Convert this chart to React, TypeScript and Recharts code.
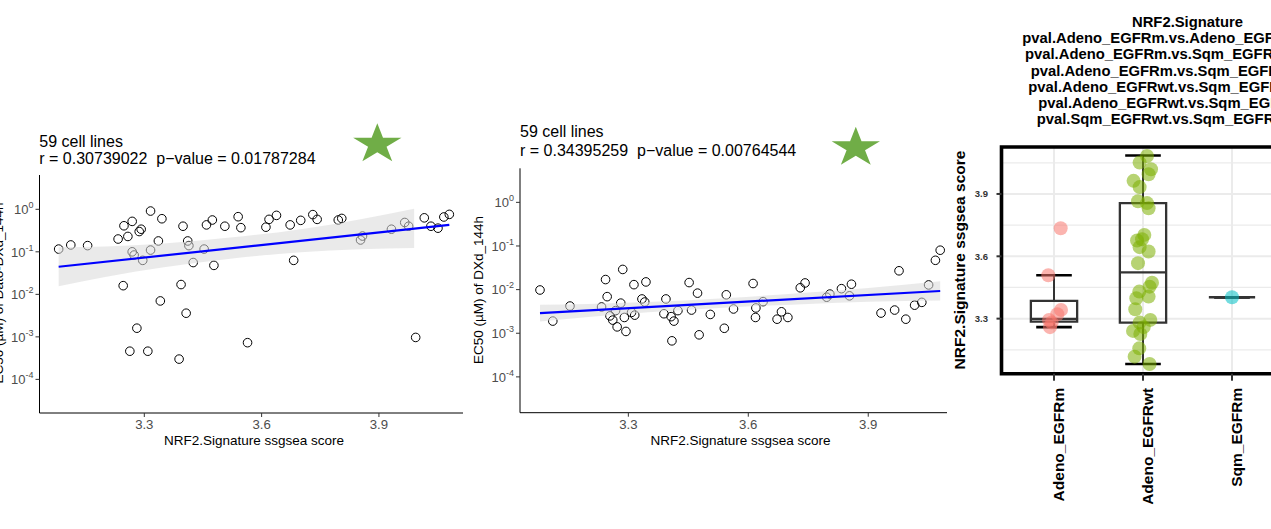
import React from "react";
import {
  ComposedChart, Scatter, Area, XAxis, YAxis, ReferenceLine, ReferenceArea, CartesianGrid,
} from "recharts";

const FONT = "'Liberation Sans', Arial, Helvetica, sans-serif";

// left panel: EC50 of Dato-DXd vs NRF2 score
const datoScore = [3.081, 3.112, 3.155, 3.233, 3.248, 3.258, 3.269, 3.287, 3.292, 3.269, 3.274, 3.296, 3.316, 3.345, 3.316, 3.336, 3.246, 3.341, 3.281, 3.263, 3.309, 3.389, 3.399, 3.411, 3.414, 3.425, 3.394, 3.407, 3.453, 3.459, 3.474, 3.478, 3.506, 3.54, 3.547, 3.564, 3.611, 3.619, 3.638, 3.673, 3.682, 3.7, 3.731, 3.742, 3.796, 3.805, 3.853, 3.858, 3.932, 3.966, 3.976, 3.994, 4.016, 4.033, 4.051, 4.066, 4.08];
const datoEc50 = [0.116, 0.145, 0.14, 0.2, 0.41, 0.23, 0.52, 0.3, 0.34, 0.1, 0.084, 0.063, 0.91, 0.6, 0.11, 0.18, 0.016, 0.007, 0.0016, 0.00046, 0.00046, 0.0003, 0.4, 0.18, 0.14, 0.056, 0.017, 0.0036, 0.116, 0.43, 0.56, 0.048, 0.4, 0.67, 0.37, 0.00073, 0.38, 0.58, 0.72, 0.43, 0.063, 0.55, 0.75, 0.58, 0.56, 0.61, 0.19, 0.235, 0.34, 0.49, 0.4, 0.00097, 0.63, 0.4, 0.36, 0.66, 0.76];
const datoFitX = [3.081, 4.08];
const datoFitY = [0.0446, 0.43];
const datoBandX = [3.081, 3.2, 3.35, 3.52, 3.7, 3.85, 3.99];
const datoBandLo = [0.0155, 0.0256, 0.0434, 0.0684, 0.0984, 0.115, 0.123];
const datoBandHi = [0.129, 0.134, 0.157, 0.216, 0.341, 0.578, 1.03];

// middle panel: EC50 of DXd vs NRF2 score
const dxdScore = [3.079, 3.111, 3.154, 3.233, 3.243, 3.247, 3.254, 3.261, 3.268, 3.272, 3.281, 3.286, 3.29, 3.294, 3.308, 3.314, 3.316, 3.334, 3.341, 3.344, 3.389, 3.394, 3.407, 3.409, 3.414, 3.424, 3.452, 3.458, 3.473, 3.477, 3.505, 3.54, 3.545, 3.563, 3.612, 3.618, 3.619, 3.637, 3.672, 3.683, 3.699, 3.73, 3.742, 3.796, 3.804, 3.833, 3.853, 3.858, 3.932, 3.966, 3.977, 3.994, 4.016, 4.034, 4.051, 4.068, 4.08];
const dxdEc50 = [0.0098, 0.0019, 0.0042, 0.004, 0.017, 0.0069, 0.0025, 0.002, 0.0033, 0.0014, 0.0049, 0.029, 0.0023, 0.0011, 0.003, 0.013, 0.0026, 0.0061, 0.0052, 0.015, 0.0028, 0.0061, 0.0024, 0.00067, 0.0019, 0.0033, 0.0145, 0.0034, 0.0083, 0.00092, 0.0027, 0.0013, 0.0076, 0.0036, 0.0138, 0.0023, 0.0038, 0.0053, 0.0021, 0.0031, 0.0023, 0.011, 0.0142, 0.0067, 0.0079, 0.0105, 0.0072, 0.0133, 0.0029, 0.0034, 0.027, 0.0021, 0.0044, 0.0051, 0.0128, 0.047, 0.08];
const dxdFitX = [3.079, 4.08];
const dxdFitY = [0.0029, 0.0093];
const dxdBandX = [3.079, 3.2, 3.35, 3.55, 3.75, 3.9, 4.08];
const dxdBandLo = [0.00186, 0.00236, 0.00301, 0.00389, 0.0047, 0.00524, 0.00562];
const dxdBandHi = [0.00447, 0.0047, 0.00522, 0.00646, 0.00855, 0.0109, 0.0155];

const logTicks = [1e-4, 1e-3, 1e-2, 1e-1, 1];
const scoreTicks = [3.3, 3.6, 3.9];

// right panel: NRF2 score by subtype
const groups = ["Adeno_EGFRm", "Adeno_EGFRwt", "Sqm_EGFRm", "Sqm_EGFRwt"];
const groupColors = ["#F8766D", "#7CAE00", "#00BFC4", "#C77CFF"];
const egfrmScores = [3.735, 3.509, 3.342, 3.321, 3.294, 3.281, 3.259];
const egfrmJitter = [0.075, -0.064, 0.079, 0.037, -0.056, -0.026, -0.045];
const egfrwtScores = [4.083, 4.051, 4.019, 3.995, 3.963, 3.933, 3.865, 3.856, 3.831, 3.703, 3.676, 3.682, 3.644, 3.623, 3.567, 3.473, 3.454, 3.43, 3.406, 3.398, 3.345, 3.294, 3.281, 3.259, 3.241, 3.226, 3.157, 3.117, 3.082];
const egfrwtJitter = [0.045, -0.038, 0.09, 0.063, -0.106, -0.038, -0.056, 0.045, 0.063, 0.015, -0.067, -0.011, -0.038, 0.063, -0.056, 0.101, 0.074, -0.042, 0.063, -0.075, -0.087, 0.082, -0.038, 0.007, -0.112, -0.03, -0.042, -0.094, 0.074];
const sqmScores = [3.403];
const sqmJitter = [0];
const whiskLo = [3.259, 3.082, 3.403];
const boxQ1 = [3.286, 3.281, 3.403];
const boxMed = [3.299, 3.523, 3.403];
const boxQ3 = [3.385, 3.856, 3.403];
const whiskHi = [3.509, 4.085, 3.403];
const majorY = [3.3, 3.6, 3.9];
const minorY = [3.15, 3.45, 3.75, 4.05];
const titleLines = [
  "pval.Adeno_EGFRm.vs.Adeno_EGFRwt",
  "pval.Adeno_EGFRm.vs.Sqm_EGFRm",
  "pval.Adeno_EGFRm.vs.Sqm_EGFRwt",
  "pval.Adeno_EGFRwt.vs.Sqm_EGFRm",
  "pval.Adeno_EGFRwt.vs.Sqm_EGFRwt",
  "pval.Sqm_EGFRwt.vs.Sqm_EGFRm",
];
const titleStartX = [1022.3, 1025, 1030.7, 1028.3, 1038.3, 1036.7];

const zip = (xs: number[], ys: number[]) => xs.map((x, i) => ({ x, y: ys[i] }));

function LogTick({ x, y, payload }: any) {
  const e = Math.round(Math.log10(payload.value));
  return (
    <text x={x} y={y} dy="0.36em" textAnchor="end" fill="#4d4d4d" fontSize={13} fontFamily={FONT}>
      10<tspan dy={-6} fontSize={9}>{e < 0 ? `-${-e}` : `${e}`}</tspan>
    </text>
  );
}

const OpenCircle = (p: any) => (
  <circle cx={p.cx} cy={p.cy} r={4.3} fill="none" stroke="#000" strokeWidth={1} />
);

interface ScatterPanelProps {
  left: number; top: number; yAxisWidth: number; marginRight: number; marginBottom: number;
  xDomain: [number, number]; yDomain: [number, number];
  score: number[]; ec50: number[]; fitX: number[]; fitY: number[];
  bandX: number[]; bandLo: number[]; bandHi: number[];
}

function ScatterPanel(p: ScatterPanelProps) {
  const band = p.bandX.map((x, i) => ({ x, band: [p.bandLo[i], p.bandHi[i]] }));
  const pts = zip(p.score, p.ec50);
  return (
    <div style={{ position: "absolute", left: p.left, top: 0 }}>
      <ComposedChart width={480} height={460} data={band}
        margin={{ top: p.top, right: p.marginRight, bottom: p.marginBottom, left: 0 }}>
        <XAxis dataKey="x" type="number" domain={p.xDomain} allowDataOverflow ticks={scoreTicks}
          height={30} tickSize={4} tickMargin={3} stroke="#000"
          tickLine={{ stroke: "#333" }}
          tick={{ fontSize: 13.2, fill: "#4d4d4d", fontFamily: FONT }} />
        <YAxis dataKey="y" type="number" scale="log" domain={p.yDomain} allowDataOverflow ticks={logTicks}
          width={p.yAxisWidth} tickSize={4} tickMargin={2} stroke="#000"
          tickLine={{ stroke: "#333" }} tick={<LogTick />} />
        <Scatter data={pts} shape={OpenCircle} isAnimationActive={false} zIndex={50} />
        <Area dataKey="band" type="monotone" stroke="none" fill="#d8d8d8" fillOpacity={0.55}
          isAnimationActive={false} zIndex={100} />
        <ReferenceLine segment={[{ x: p.fitX[0], y: p.fitY[0] }, { x: p.fitX[1], y: p.fitY[1] }]}
          stroke="#0000FF" strokeWidth={2.2} />
      </ComposedChart>
    </div>
  );
}

function GroupTick({ x, y, payload }: any) {
  const bx = x + 10.5;
  return (
    <text x={bx} y={y} transform={`rotate(-90 ${bx} ${y})`} textAnchor="end" fontSize={15.5}
      fontWeight="bold" fill="#000" fontFamily={FONT}>
      {groups[payload.value - 1]}
    </text>
  );
}

function SubtypeBox() {
  const groupPts = [
    egfrmScores.map((y, i) => ({ x: 1 + egfrmJitter[i], y })),
    egfrwtScores.map((y, i) => ({ x: 2 + egfrwtJitter[i], y })),
    sqmScores.map((y, i) => ({ x: 3 + sqmJitter[i], y })),
  ];
  const half = 0.26;
  const cap = 0.2;
  return (
    <div style={{ position: "absolute", left: 960, top: 0 }}>
      <ComposedChart width={420} height={529} margin={{ top: 147, right: 6.5, bottom: 15.3, left: 0 }}>
        <CartesianGrid stroke="#ebebeb" strokeWidth={1.2} vertical={false} horizontalValues={minorY} />
        <CartesianGrid stroke="#ebebeb" strokeWidth={2} horizontalValues={majorY} verticalValues={[1, 2, 3, 4]} />
        <XAxis dataKey="x" type="number" domain={[0.41, 4.59]} allowDataOverflow ticks={[1, 2, 3, 4]}
          height={140} axisLine={false} tickSize={7} tickMargin={7}
          tickLine={{ stroke: "#333", strokeWidth: 2 }} tick={<GroupTick />} />
        <YAxis dataKey="y" type="number" domain={[3.035, 4.126]} allowDataOverflow ticks={majorY}
          width={41.5} axisLine={false} tickSize={5} tickMargin={8.5}
          tickLine={{ stroke: "#333", strokeWidth: 2 }}
          tick={{ fontSize: 9.5, fontWeight: "bold", fill: "#333", fontFamily: FONT }} />
        {groupPts.map((pts, g) => (
          <Scatter key={g} data={pts} isAnimationActive={false}
            shape={(s: any) => <circle cx={s.cx} cy={s.cy} r={7} fill={groupColors[g]} fillOpacity={0.55} stroke="none" />} />
        ))}
        {boxMed.map((m, i) => {
          const c = i + 1;
          return (
            <React.Fragment key={i}>
              <ReferenceLine segment={[{ x: c, y: boxQ3[i] }, { x: c, y: whiskHi[i] }]} stroke="#333" strokeWidth={2} />
              <ReferenceLine segment={[{ x: c, y: whiskLo[i] }, { x: c, y: boxQ1[i] }]} stroke="#333" strokeWidth={2} />
              <ReferenceLine segment={[{ x: c - cap, y: whiskHi[i] }, { x: c + cap, y: whiskHi[i] }]} stroke="#000" strokeWidth={2.6} />
              <ReferenceLine segment={[{ x: c - cap, y: whiskLo[i] }, { x: c + cap, y: whiskLo[i] }]} stroke="#000" strokeWidth={2.6} />
              {boxQ3[i] > boxQ1[i] && (
                <ReferenceArea x1={c - half} x2={c + half} y1={boxQ1[i]} y2={boxQ3[i]}
                  fill="none" fillOpacity={0} stroke="#333" strokeWidth={2.3} strokeOpacity={1} />
              )}
              <ReferenceLine segment={[{ x: c - half, y: m }, { x: c + half, y: m }]} stroke="#333" strokeWidth={2.3} />
            </React.Fragment>
          );
        })}
        <ReferenceArea x1={0.41} x2={4.59} y1={3.035} y2={4.126} ifOverflow="visible"
          fill="none" fillOpacity={0} stroke="#000" strokeWidth={3.6} strokeOpacity={1} />
      </ComposedChart>
    </div>
  );
}

function starPoints(cx: number, top: number, r: number, sy: number) {
  const cy = top + r * sy;
  const pts: string[] = [];
  for (let k = 0; k < 10; k++) {
    const rr = k % 2 === 0 ? r : r * 0.382;
    const a = -Math.PI / 2 + (k * Math.PI) / 5;
    pts.push(`${cx + rr * Math.cos(a)},${cy + rr * Math.sin(a) * sy}`);
  }
  return pts.join(" ");
}

function Overlay() {
  const t = { fontFamily: FONT, fill: "#000" };
  return (
    <svg width={1271} height={529} style={{ position: "absolute", left: 0, top: 0, pointerEvents: "none" }}>
      <text x={39.3} y={146.7} fontSize={16} {...t}>59 cell lines</text>
      <text x={39.3} y={164.3} fontSize={16} {...t} style={{ whiteSpace: "pre" }}>r = 0.30739022  p−value = 0.01787284</text>
      <text x={520} y={137.3} fontSize={16} {...t}>59 cell lines</text>
      <text x={520} y={155.7} fontSize={16} {...t} style={{ whiteSpace: "pre" }}>r = 0.34395259  p−value = 0.00764544</text>
      <polygon points={starPoints(377.3, 123.3, 25.4, 0.827)} fill="#70AD47" />
      <polygon points={starPoints(855.8, 126.7, 25.4, 0.827)} fill="#70AD47" />
      <text x={254} y={445} fontSize={13.5} textAnchor="middle" {...t}>NRF2.Signature ssgsea score</text>
      <text x={740.5} y={444.5} fontSize={13.5} textAnchor="middle" {...t}>NRF2.Signature ssgsea score</text>
      <text x={2.5} y={293} fontSize={13.5} textAnchor="middle" transform="rotate(-90 2.5 293)" {...t}>EC50 (µM) of Dato-DXd_144h</text>
      <text x={483.3} y={290} fontSize={13.5} textAnchor="middle" transform="rotate(-90 483.3 290)" {...t}>EC50 (µM) of DXd_144h</text>
      <text x={965} y={260} fontSize={15.5} fontWeight="bold" textAnchor="middle" transform="rotate(-90 965 260)" {...t}>NRF2.Signature ssgsea score</text>
      <text x={1187.5} y={26.7} fontSize={14.8} fontWeight="bold" textAnchor="middle" {...t}>NRF2.Signature</text>
      {titleLines.map((s, i) => (
        <text key={i} x={titleStartX[i]} y={43 + i * 16.27} fontSize={14.8} fontWeight="bold" {...t}>{s}</text>
      ))}
    </svg>
  );
}

export default function App() {
  return (
    <div style={{ position: "absolute", left: 0, top: 0, width: 1271, height: 529, overflow: "hidden", background: "#fff" }}>
      <ScatterPanel left={0} top={175} yAxisWidth={39.5} marginRight={17} marginBottom={17}
        xDomain={[3.032, 4.115]} yDomain={[1.62e-5, 6.41]}
        score={datoScore} ec50={datoEc50} fitX={datoFitX} fitY={datoFitY}
        bandX={datoBandX} bandLo={datoBandLo} bandHi={datoBandHi} />
      <ScatterPanel left={480} top={168.3} yAxisWidth={40} marginRight={13} marginBottom={17.3}
        xDomain={[3.029, 4.097]} yDomain={[1.51e-5, 6.03]}
        score={dxdScore} ec50={dxdEc50} fitX={dxdFitX} fitY={dxdFitY}
        bandX={dxdBandX} bandLo={dxdBandLo} bandHi={dxdBandHi} />
      <SubtypeBox />
      <Overlay />
    </div>
  );
}
